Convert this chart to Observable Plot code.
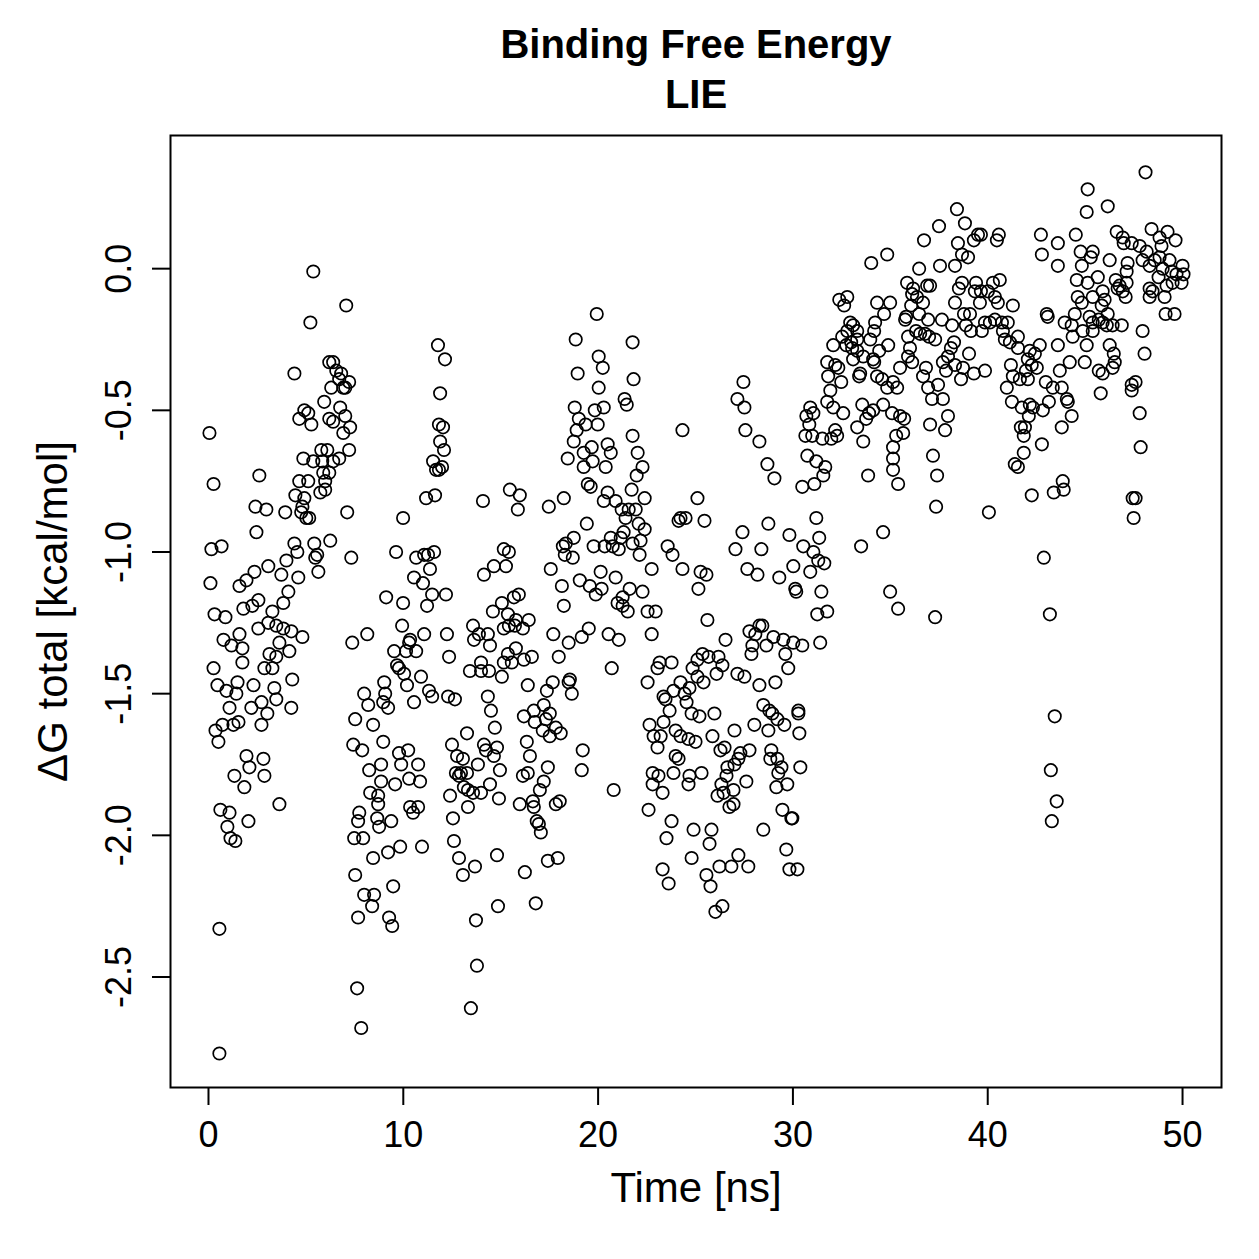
<!DOCTYPE html>
<html><head><meta charset="utf-8">
<script src="https://cdn.jsdelivr.net/npm/d3@7"></script>
<script src="https://cdn.jsdelivr.net/npm/@observablehq/plot@0.6"></script>
<style>body{margin:0;background:#fff}</style>
</head><body><div id="chart"></div>
<script>
const xTicks = [0, 10, 20, 30, 40, 50];
const yTicks = [0, -0.5, -1, -1.5, -2, -2.5];
const titleLines = ["Binding Free Energy", "LIE"];
const xLabel = "Time [ns]";
const yLabel = "ΔG total [kcal/mol]";

// [time ns, ΔG kcal/mol]
const segA = [[5.38,-0.01],[7.07,-0.13],[5.23,-0.19],[4.41,-0.37],[6.20,-0.33],[6.40,-0.33],[6.56,-0.36],[6.81,-0.37],[6.71,-0.39],[7.22,-0.40],[6.30,-0.42],[6.92,-0.42],[7.02,-0.42],[5.94,-0.47],[6.76,-0.49],[7.02,-0.52],[4.92,-0.50],[5.12,-0.51],[4.66,-0.53],[5.28,-0.55],[6.20,-0.53],[6.40,-0.54],[7.27,-0.56],[6.92,-0.58],[0.05,-0.58],[5.79,-0.64],[6.10,-0.64],[7.22,-0.64],[4.87,-0.67],[5.38,-0.68],[5.84,-0.68],[6.40,-0.68],[6.71,-0.67],[0.26,-0.76],[2.61,-0.73],[5.89,-0.72],[6.20,-0.72],[4.66,-0.75],[5.12,-0.75],[5.99,-0.75],[5.74,-0.79],[5.99,-0.78],[4.46,-0.80],[4.92,-0.81],[4.82,-0.84],[4.76,-0.86],[3.94,-0.86],[5.02,-0.88],[5.17,-0.88],[7.12,-0.86],[2.41,-0.84],[2.97,-0.85],[2.46,-0.93],[0.15,-0.99],[0.67,-0.98],[4.41,-0.97],[4.56,-1.00],[5.43,-0.97],[6.25,-0.96],[5.58,-1.01],[5.48,-1.02],[7.33,-1.02],[5.64,-1.07],[4.00,-1.03],[3.07,-1.05],[3.74,-1.08],[4.61,-1.09],[2.36,-1.07],[1.95,-1.10],[1.59,-1.12],[0.10,-1.11],[4.10,-1.14],[2.56,-1.17],[1.79,-1.20],[2.25,-1.19],[3.84,-1.18],[3.28,-1.21],[0.31,-1.22],[0.87,-1.23],
[1.59,-1.29],[0.77,-1.31],[1.18,-1.33],[1.74,-1.34],[1.74,-1.39],[0.26,-1.41],[2.56,-1.27],[3.07,-1.25],[3.48,-1.26],[3.84,-1.27],[4.25,-1.28],[4.82,-1.30],[3.64,-1.32],[4.15,-1.35],[3.13,-1.36],[3.48,-1.37],[2.87,-1.41],[3.28,-1.41],[0.46,-1.47],[0.92,-1.49],[1.49,-1.46],[1.43,-1.50],[2.31,-1.47],[3.38,-1.48],[4.30,-1.45],[3.48,-1.52],[1.08,-1.55],[2.20,-1.55],[2.72,-1.53],[3.02,-1.57],[4.25,-1.55],[2.72,-1.61],[0.36,-1.63],[0.72,-1.61],[1.28,-1.61],[1.54,-1.60],[0.51,-1.67],[1.95,-1.72],[2.10,-1.76],[2.82,-1.73],[1.33,-1.79],[1.84,-1.83],[2.87,-1.79],[3.64,-1.89],[0.61,-1.91],[1.08,-1.92],[2.05,-1.95],[0.97,-1.97],[1.13,-2.01],[1.38,-2.02],[0.56,-2.33],[0.56,-2.77],
[7.38,-1.32],[8.15,-1.29],[7.99,-1.50],[8.20,-1.54],[7.53,-1.59],[8.45,-1.61],[7.43,-1.68],[7.89,-1.70],[8.25,-1.77],[8.30,-1.85],[7.74,-1.92],[7.68,-1.95],[7.48,-2.01],[7.94,-2.01],[8.45,-2.08],[7.53,-2.14],[7.99,-2.21],[8.40,-2.25],[7.68,-2.29],[7.63,-2.54],[7.84,-2.68]];

const segB = [[11.78,-0.27],[12.14,-0.32],[11.89,-0.44],[11.83,-0.55],[12.04,-0.56],[11.89,-0.61],[12.09,-0.64],[11.53,-0.68],[11.68,-0.71],[11.83,-0.71],[11.99,-0.70],[11.17,-0.81],[11.63,-0.80],[9.99,-0.88],[14.09,-0.82],[15.47,-0.78],[15.98,-0.80],[15.88,-0.85],[17.47,-0.84],[9.63,-1.00],[10.66,-1.02],[11.07,-1.01],[11.27,-1.01],[11.58,-1.00],[11.37,-1.06],[10.55,-1.09],[11.01,-1.11],[15.16,-0.99],[15.42,-1.00],[14.65,-1.05],[15.27,-1.05],[14.14,-1.08],[17.57,-1.06],[9.12,-1.16],[9.99,-1.18],[11.48,-1.15],[12.19,-1.15],[11.22,-1.19],[15.06,-1.18],[14.60,-1.21],[15.68,-1.16],[15.93,-1.15],[15.37,-1.22],[16.44,-1.24],[15.78,-1.24],
[9.94,-1.26],[11.07,-1.29],[12.24,-1.29],[13.58,-1.26],[13.88,-1.29],[14.34,-1.29],[13.63,-1.31],[14.45,-1.33],[15.16,-1.27],[15.42,-1.26],[15.73,-1.26],[16.14,-1.27],[17.70,-1.29],[9.53,-1.35],[10.14,-1.35],[10.35,-1.31],[10.30,-1.32],[10.66,-1.35],[9.68,-1.40],[9.78,-1.41],[10.04,-1.43],[12.35,-1.37],[13.42,-1.42],[13.99,-1.39],[13.99,-1.42],[14.40,-1.42],[15.16,-1.39],[15.37,-1.36],[15.78,-1.34],[15.57,-1.39],[16.19,-1.38],[16.60,-1.37],[15.06,-1.44],[9.02,-1.46],[10.91,-1.44],[10.19,-1.47],[9.07,-1.50],[8.97,-1.53],[9.22,-1.55],[10.55,-1.53],[11.32,-1.49],[11.48,-1.51],[12.30,-1.51],[12.65,-1.52],[14.34,-1.51],[14.50,-1.56],[16.39,-1.47],[17.37,-1.49],[16.19,-1.58],[16.70,-1.56],[17.21,-1.54],[16.75,-1.60],[17.16,-1.63],[8.97,-1.67],[13.27,-1.64],[14.70,-1.62],[12.50,-1.68],[14.14,-1.68],[14.24,-1.70],[14.81,-1.69],[12.76,-1.72],[13.06,-1.73],[13.83,-1.75],[14.65,-1.72],[14.96,-1.77],[16.34,-1.67],[16.50,-1.72],[17.42,-1.76],[8.86,-1.75],[9.78,-1.71],[10.25,-1.70],[9.89,-1.75],[10.76,-1.75],[12.70,-1.78],[12.96,-1.78],[13.27,-1.78],[12.86,-1.79],[8.86,-1.81],[9.58,-1.82],[10.30,-1.80],[10.86,-1.81],[14.45,-1.82],[16.14,-1.79],[16.39,-1.78],[17.21,-1.81],[17.01,-1.84],[8.71,-1.86],[12.40,-1.86],[13.11,-1.83],[13.32,-1.84],[13.58,-1.85],[13.99,-1.85],[14.91,-1.87],[15.98,-1.89],[16.65,-1.88],[8.71,-1.89],[10.35,-1.90],[10.76,-1.90],[10.50,-1.92],[13.32,-1.90],[16.70,-1.90],[8.66,-1.94],[8.76,-1.97],[9.38,-1.95],[12.55,-1.94],[16.85,-1.95],[16.96,-1.96],[17.06,-1.99],[9.22,-2.06],[9.84,-2.04],[10.96,-2.04],[12.60,-2.02],[12.86,-2.08],[13.06,-2.14],[13.68,-2.11],[14.81,-2.07],[16.24,-2.13],[17.42,-2.09],[9.48,-2.18],[8.50,-2.21],[9.27,-2.29],[9.43,-2.32],[14.86,-2.25],[16.80,-2.24],[13.73,-2.30],[13.78,-2.46],[13.47,-2.61]];

const segC = [[19.93,-0.16],[18.85,-0.25],[21.77,-0.26],[20.03,-0.31],[20.24,-0.35],[18.95,-0.37],[21.82,-0.39],[20.03,-0.42],[21.36,-0.46],[21.47,-0.48],[18.80,-0.49],[19.83,-0.50],[20.29,-0.49],[19.01,-0.53],[19.36,-0.55],[19.98,-0.55],[18.90,-0.57],[24.33,-0.57],[21.77,-0.59],[18.75,-0.61],[19.67,-0.63],[20.49,-0.62],[19.26,-0.65],[20.65,-0.65],[22.03,-0.65],[18.44,-0.67],[19.72,-0.68],[19.26,-0.70],[20.39,-0.70],[22.28,-0.70],[21.98,-0.73],[19.47,-0.76],[19.62,-0.77],[20.49,-0.79],[21.72,-0.78],[18.24,-0.81],[20.29,-0.82],[20.90,-0.82],[22.39,-0.81],[25.10,-0.81],[21.21,-0.85],[21.57,-0.85],[21.93,-0.85],[21.41,-0.88],[24.13,-0.89],[24.23,-0.88],[24.49,-0.88],[25.46,-0.89],[19.42,-0.90],[22.08,-0.90],[22.39,-0.92],[21.31,-0.93],[18.75,-0.95],[18.34,-0.97],[18.19,-0.98],[18.29,-1.01],[18.70,-1.02],[20.65,-0.95],[21.16,-0.95],[19.77,-0.98],[20.34,-0.98],[20.75,-0.98],[21.06,-0.99],[21.77,-0.97],[22.18,-0.96],[22.13,-1.01],[23.57,-0.98],[23.82,-1.01],[22.75,-1.06],[24.33,-1.06],[25.26,-1.07],[25.56,-1.08],[25.15,-1.13],[19.06,-1.10],[20.13,-1.07],[20.90,-1.09],[18.14,-1.12],[19.57,-1.12],[20.18,-1.13],[19.88,-1.15],[21.62,-1.13],[22.28,-1.14],[18.24,-1.19],[21.00,-1.18],[21.26,-1.16],[21.26,-1.19],[21.52,-1.21],[22.54,-1.21],[22.95,-1.21],[25.61,-1.24],
[18.49,-1.32],[19.16,-1.30],[19.52,-1.27],[20.54,-1.29],[21.06,-1.31],[22.75,-1.29],[17.98,-1.37],[20.70,-1.41],[17.67,-1.46],[18.55,-1.45],[18.49,-1.46],[18.65,-1.50],[17.52,-1.57],[17.32,-1.59],[17.83,-1.62],[18.08,-1.64],[17.52,-1.65],[19.21,-1.70],[19.16,-1.77],[20.80,-1.84],[18.03,-1.88],[17.83,-1.89],[17.93,-2.08],
[22.54,-1.46],[23.05,-1.41],[23.16,-1.39],[23.77,-1.39],[24.23,-1.46],[23.87,-1.49],[23.36,-1.51],[23.46,-1.52],[24.44,-1.50],[24.69,-1.48],[24.54,-1.53],[24.85,-1.41],[25.10,-1.38],[25.36,-1.36],[25.67,-1.37],[26.18,-1.37],[26.08,-1.43],[25.41,-1.46],[25.10,-1.44],[26.54,-1.31],[23.67,-1.56],[24.80,-1.57],[25.20,-1.58],[25.97,-1.57],[22.64,-1.61],[23.36,-1.60],[23.98,-1.63],[24.23,-1.65],[24.64,-1.66],[25.00,-1.67],[22.85,-1.65],[23.21,-1.65],[23.05,-1.69],[25.87,-1.65],[26.28,-1.70],[23.98,-1.72],[24.13,-1.73],[22.80,-1.78],[23.10,-1.79],[23.87,-1.78],[22.80,-1.82],[23.31,-1.85],[24.69,-1.79],[25.31,-1.78],[24.64,-1.82],[26.33,-1.82],[26.13,-1.86],[22.59,-1.91],[23.77,-1.95],[23.51,-2.01],[24.90,-1.98],[25.82,-1.98],[25.72,-2.03],[24.80,-2.08],[23.31,-2.12],[23.62,-2.17],[25.56,-2.14],[25.77,-2.18],[26.23,-2.11],[26.02,-2.27],[26.38,-2.25]];

const segD = [[34.02,0.02],[34.84,0.05],[32.38,-0.11],[32.79,-0.10],[32.63,-0.13],[34.32,-0.12],[34.99,-0.12],[34.68,-0.16],[34.22,-0.19],[32.94,-0.19],[33.09,-0.20],[32.79,-0.22],[32.53,-0.24],[33.30,-0.22],[34.17,-0.22],[32.99,-0.26],[33.30,-0.25],[33.97,-0.25],[32.07,-0.27],[32.74,-0.27],[33.04,-0.28],[33.30,-0.29],[34.43,-0.29],[34.89,-0.27],[33.09,-0.32],[33.61,-0.31],[34.12,-0.32],[34.17,-0.33],[31.76,-0.33],[32.17,-0.34],[32.33,-0.35],[31.81,-0.38],[32.48,-0.40],[33.45,-0.37],[33.40,-0.38],[34.32,-0.38],[34.58,-0.39],[34.84,-0.42],[35.14,-0.40],[35.35,-0.42],[35.50,-0.35],[31.92,-0.43],[31.76,-0.47],[32.07,-0.49],[32.58,-0.51],[30.89,-0.49],[30.69,-0.52],[31.05,-0.51],[30.84,-0.55],[30.64,-0.59],[30.99,-0.59],[31.51,-0.60],[31.97,-0.60],[32.17,-0.57],[32.27,-0.59],[33.56,-0.48],[33.91,-0.51],[34.12,-0.50],[33.76,-0.53],[33.30,-0.56],[34.63,-0.48],[35.09,-0.51],[35.50,-0.52],[35.30,-0.59],[35.14,-0.63],[33.61,-0.61],[35.14,-0.67],[35.14,-0.71],[35.40,-0.76],[33.86,-0.73],[30.74,-0.66],[31.20,-0.68],[31.66,-0.70],[31.56,-0.73],[30.48,-0.77],[31.10,-0.76],[27.46,-0.40],[27.15,-0.46],[27.51,-0.49],[27.56,-0.57],[28.28,-0.61],[28.69,-0.69],[29.05,-0.74],[31.20,-0.88],[28.74,-0.90],[27.41,-0.93],[27.05,-0.99],[28.38,-0.99],[29.82,-0.94],[30.53,-0.98],[31.35,-0.95],[31.05,-1.00],[31.30,-1.03],[31.61,-1.04],[30.02,-1.05],[30.89,-1.07],[27.66,-1.06],[28.18,-1.08],[29.30,-1.09],[30.12,-1.13],[30.17,-1.14],[31.46,-1.14],[33.50,-0.98],[34.63,-0.93],[34.99,-1.14],[31.25,-1.22],[31.76,-1.21],[35.40,-1.20],
[27.77,-1.28],[28.07,-1.29],[28.28,-1.26],[28.43,-1.26],[28.64,-1.33],[29.00,-1.30],[29.51,-1.31],[30.02,-1.32],[30.48,-1.33],[31.40,-1.32],[27.92,-1.33],[27.87,-1.36],[29.61,-1.36],[29.76,-1.41],[26.38,-1.40],[27.15,-1.43],[27.51,-1.44],[28.28,-1.47],[29.10,-1.46],[28.48,-1.54],[28.79,-1.56],[28.94,-1.57],[29.20,-1.59],[29.56,-1.61],[30.28,-1.56],[30.28,-1.57],[28.02,-1.61],[28.74,-1.63],[30.33,-1.64],[27.00,-1.63],[26.49,-1.69],[27.77,-1.70],[27.30,-1.71],[27.20,-1.73],[27.00,-1.75],[26.64,-1.76],[26.59,-1.79],[28.89,-1.70],[28.84,-1.73],[29.20,-1.73],[29.41,-1.76],[29.25,-1.78],[30.38,-1.76],[29.15,-1.83],[29.71,-1.82],[27.61,-1.81],[26.95,-1.84],[26.44,-1.85],[26.95,-1.89],[26.74,-1.90],[29.46,-1.91],[29.92,-1.94],[29.97,-1.94],[28.48,-1.98],[29.66,-2.05],[27.20,-2.07],[26.84,-2.11],[27.71,-2.11],[29.82,-2.12],[30.23,-2.12]];

const segE = [[38.42,0.21],[37.50,0.15],[38.83,0.16],[36.73,0.10],[38.47,0.09],[39.29,0.10],[39.50,0.12],[39.65,0.12],[40.47,0.10],[40.57,0.12],[42.73,0.12],[43.60,0.09],[42.78,0.05],[43.60,0.01],[38.68,0.05],[38.99,0.04],[38.32,0.01],[37.55,0.01],[36.48,0.00],[35.86,-0.05],[36.17,-0.07],[36.12,-0.09],[36.37,-0.10],[36.89,-0.06],[37.04,-0.06],[36.68,-0.12],[36.07,-0.13],[38.68,-0.05],[38.52,-0.07],[39.40,-0.05],[39.34,-0.08],[39.65,-0.08],[40.01,-0.08],[40.27,-0.05],[40.62,-0.04],[40.37,-0.10],[40.52,-0.12],[39.60,-0.12],[38.32,-0.12],[41.29,-0.13],[35.81,-0.17],[36.48,-0.16],[36.94,-0.18],[37.65,-0.18],[38.17,-0.20],[38.78,-0.16],[39.09,-0.16],[38.88,-0.20],[39.14,-0.22],[39.70,-0.22],[39.86,-0.19],[40.11,-0.19],[40.37,-0.18],[40.73,-0.19],[41.03,-0.19],[40.78,-0.22],[35.76,-0.18],[35.91,-0.24],[36.32,-0.22],[36.53,-0.23],[36.78,-0.23],[36.99,-0.24],[37.30,-0.25],[40.88,-0.25],[41.14,-0.26],[41.55,-0.24],[41.55,-0.28],[43.03,-0.16],[43.08,-0.17],[43.60,-0.27],[43.95,-0.19],[36.01,-0.28],[35.91,-0.31],[36.12,-0.33],[36.68,-0.38],[36.83,-0.35],[36.94,-0.42],[37.14,-0.46],[37.45,-0.41],[37.70,-0.46],[37.70,-0.33],[37.86,-0.36],[37.96,-0.31],[38.11,-0.28],[38.27,-0.26],[38.32,-0.34],[38.73,-0.35],[38.63,-0.39],[39.04,-0.30],[39.29,-0.37],[39.86,-0.36],[41.19,-0.34],[41.29,-0.38],[41.65,-0.39],[42.06,-0.39],[40.98,-0.42],[41.24,-0.47],[41.75,-0.49],[42.16,-0.48],[42.32,-0.49],[42.83,-0.50],[43.14,-0.47],[42.98,-0.40],[43.34,-0.42],[43.80,-0.42],[42.16,-0.29],[42.42,-0.30],[42.67,-0.27],[42.06,-0.32],[42.26,-0.34],[42.52,-0.35],[41.96,-0.36],[43.70,-0.36],[42.11,-0.52],[41.91,-0.56],[41.70,-0.56],[41.85,-0.59],[41.85,-0.65],[41.39,-0.69],[41.55,-0.70],[42.78,-0.62],[43.80,-0.56],[35.71,-0.53],[35.66,-0.58],[37.04,-0.55],[37.81,-0.57],[37.96,-0.52],[37.19,-0.66],[37.40,-0.73],[37.35,-0.84],[40.06,-0.86],[42.26,-0.80],[43.39,-0.79],[43.85,-0.75],[43.90,-0.78],[42.88,-1.02],[37.30,-1.23],[43.19,-1.22],[43.44,-1.58],[43.24,-1.77],[43.54,-1.88],[43.29,-1.95]];

const segF = [[48.10,0.34],[45.13,0.28],[45.08,0.20],[46.16,0.22],[44.52,0.12],[46.62,0.13],[46.93,0.11],[46.98,0.09],[47.39,0.09],[47.80,0.08],[48.41,0.14],[48.82,0.11],[49.23,0.13],[49.64,0.10],[48.92,0.08],[48.16,0.06],[47.95,0.03],[48.57,0.03],[48.82,0.04],[49.33,0.03],[50.00,0.01],[48.98,0.00],[49.44,-0.01],[49.69,-0.02],[50.05,-0.02],[49.95,-0.05],[49.49,-0.05],[49.18,-0.06],[48.77,-0.03],[48.31,0.01],[44.77,0.06],[45.39,0.06],[45.29,0.04],[44.83,0.01],[46.26,0.03],[47.18,0.02],[47.13,-0.01],[45.65,-0.03],[45.13,-0.05],[44.57,-0.04],[46.57,-0.04],[46.77,-0.06],[47.13,-0.05],[46.67,-0.07],[46.93,-0.08],[47.08,-0.10],[48.31,-0.07],[48.46,-0.08],[48.31,-0.10],[49.08,-0.10],[49.13,-0.16],[49.59,-0.16],[44.62,-0.10],[44.83,-0.12],[45.39,-0.10],[45.90,-0.08],[46.00,-0.11],[46.16,-0.16],[45.85,-0.13],[44.47,-0.16],[44.31,-0.20],[45.23,-0.17],[45.39,-0.19],[45.70,-0.18],[45.90,-0.19],[46.41,-0.20],[46.88,-0.20],[44.88,-0.22],[45.39,-0.22],[46.11,-0.20],[44.36,-0.24],[45.08,-0.27],[47.95,-0.22],[46.26,-0.27],[46.47,-0.30],[46.52,-0.33],[46.41,-0.35],[45.70,-0.36],[45.90,-0.37],[44.21,-0.33],[44.98,-0.33],[48.05,-0.30],[47.59,-0.40],[47.39,-0.41],[47.39,-0.43],[45.80,-0.44],[44.06,-0.46],[44.11,-0.47],[44.31,-0.52],[47.80,-0.51],[47.85,-0.63],[47.44,-0.81],[47.59,-0.81],[47.49,-0.88]];

const points = [...segA, ...segB, ...segC, ...segD, ...segE, ...segF].map(([t, v]) => ({t, v}));

const font = "'Liberation Sans', Arial, Helvetica, sans-serif";
const chart = Plot.plot({
  width: 1259, height: 1259,
  marginLeft: 170, marginRight: 38, marginTop: 135, marginBottom: 172,
  style: {fontFamily: font, background: "white", color: "black"},
  x: {domain: [-1.95, 52]},
  y: {domain: [-2.89, 0.47]},
  marks: [
    Plot.frame({stroke: "black", strokeWidth: 2}),
    Plot.axisX(xTicks, {tickSize: 18, tickPadding: 16, fontSize: 36, tickFormat: d => String(d), strokeWidth: 2, label: null}),
    Plot.axisY(yTicks, {tickSize: 18, tickPadding: 22, fontSize: 36, tickRotate: -90, tickFormat: d => d.toFixed(1), strokeWidth: 2, label: null}),
    Plot.dot(points, {x: "t", y: "v", r: 6.2, stroke: "black", strokeWidth: 1.7, fill: "none"}),
    Plot.text([xLabel], {text: d => d, frameAnchor: "bottom", textAnchor: "middle", dy: 114, fontSize: 42}),
    Plot.text([yLabel], {text: d => d, frameAnchor: "left", textAnchor: "middle", dx: -117, rotate: -90, fontSize: 42}),
    Plot.text([titleLines[0]], {text: d => d, frameAnchor: "top", textAnchor: "middle", dy: -106, fontSize: 40, fontWeight: "bold"}),
    Plot.text([titleLines[1]], {text: d => d, frameAnchor: "top", textAnchor: "middle", dy: -56, fontSize: 40, fontWeight: "bold"})
  ]
});
document.getElementById("chart").append(chart);
</script>
</body></html>
